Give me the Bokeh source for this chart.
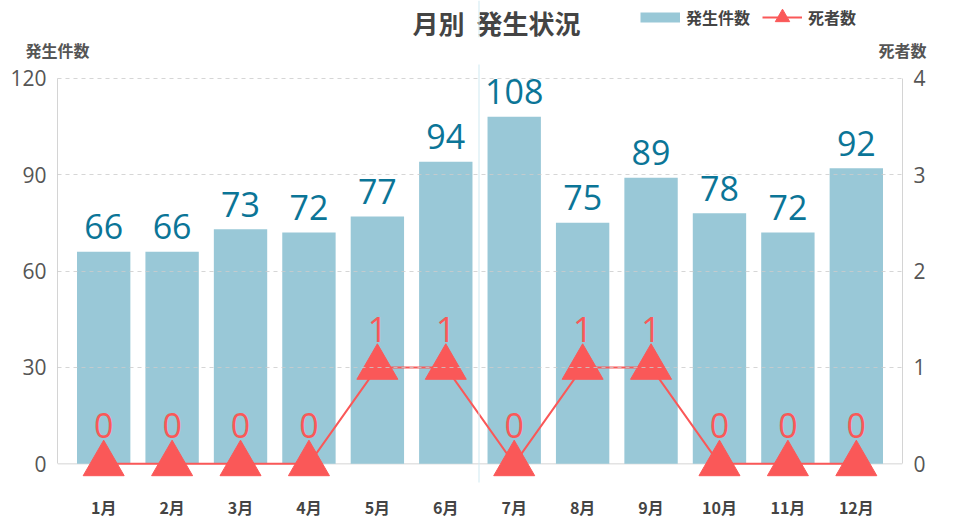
from bokeh.plotting import figure
from bokeh.layouts import column
from bokeh.models import (FactorRange, Range1d, LinearAxis, FixedTicker, Span, Label,
                          Legend, LegendItem, BoxAnnotation, ColumnDataSource)
from bokeh.core.properties import value
from bokeh.embed import file_html
from bokeh.resources import INLINE

# ---- data ----
months = ["1月", "2月", "3月", "4月", "5月", "6月", "7月", "8月", "9月", "10月", "11月", "12月"]
cases = [66, 66, 73, 72, 77, 94, 108, 75, 89, 78, 72, 92]
deaths = [0, 0, 0, 0, 1, 1, 0, 1, 1, 0, 0, 0]
case_ticks = [0, 30, 60, 90, 120]
death_ticks = [0, 1, 2, 3, 4]
title_text = "月別\u00a0 発生状況"
case_label = "発生件数"
death_label = "死者数"

# ---- styles ----
BAR = "#99c8d7"
TEAL = "#0b7597"
RED = "#fa5858"
GRID = "#cccccc"
AXIS = "#d4d4d4"
DARK = "#444444"
GUIDE = "#cfeaf2"
JP = "Noto Sans CJK JP"
NUM = "Open Sans"

W = 956
HEAD_H = 64               # header strip (title, legend, axis titles)
HEAD_FRAME_H = 38         # header frame height (rest is the axis-title band)
MAIN_H = 521 - HEAD_H
FL = 57                   # frame left (px)
FR = 902                  # frame right (px)
TOP_PX = 64 - HEAD_H      # frame top inside main figure
ZERO_Y = 471 - HEAD_H     # y of value 0 inside main figure
FB = 490 - HEAD_H         # frame bottom inside main figure
PX = (471 - 78) / 120.0   # px per case
top_ext = (78 - 64) / PX
bot_ext = (FB - ZERO_Y) / PX

# ================= header =================
h = figure(width=W, height=HEAD_H, x_range=Range1d(FL, FR), y_range=Range1d(HEAD_FRAME_H, 0),
           x_axis_type=None, y_axis_type=None, output_backend="svg", toolbar_location=None,
           min_border_left=FL, min_border_right=W - FR, min_border_top=0,
           min_border_bottom=HEAD_H - HEAD_FRAME_H)
h.outline_line_color = None
h.grid.visible = False

h.add_layout(Label(x=496, y=23, text=title_text, text_align="center", text_baseline="middle",
                   text_font=JP, text_font_style="bold", text_font_size="26px", text_color=DARK))
h.add_layout(BoxAnnotation(left=478, right=479, fill_color=GUIDE, fill_alpha=1, line_color=None))

# axis titles, shown as labels at the two ends of the plot width
title_axis = LinearAxis(ticker=FixedTicker(ticks=[FL, FR]),
                        major_label_overrides={FL: case_label, FR: death_label},
                        axis_line_color=None, major_tick_line_color=None,
                        minor_tick_line_color=None, major_tick_out=0, major_tick_in=0,
                        minor_tick_out=0, major_label_standoff=0,
                        major_label_text_font=JP, major_label_text_font_style="bold",
                        major_label_text_font_size="16px", major_label_text_color="#555555")
h.add_layout(title_axis, "below")

# legend proxies (kept outside the visible header area)
sw = h.line(x=[-100, -90], y=[-100, -100], line_color=BAR, line_width=10)
lg_line = h.line(x=[-100, -90], y=[-100, -100], line_color=RED, line_width=2)
lg_tri = h.scatter(x=[-100], y=[-100], marker="triangle", fill_color=RED, line_color=RED)
legend = Legend(items=[LegendItem(label=case_label, renderers=[sw]),
                       LegendItem(label=death_label, renderers=[lg_line, lg_tri])],
                orientation="horizontal", location=(640 - FL, HEAD_FRAME_H - 36),
                glyph_width=40, glyph_height=36, label_standoff=6, spacing=12,
                padding=0, margin=0, border_line_color=None, background_fill_alpha=0,
                label_text_font=JP, label_text_font_style="bold", label_text_font_size="16px",
                label_text_color=DARK)
h.add_layout(legend, "center")

# ================= main chart =================
src = ColumnDataSource(dict(
    m=months, c=cases, d=deaths,
    ct=[str(v) for v in cases], dt=[str(v) for v in deaths],
))

p = figure(width=W, height=MAIN_H,
           x_range=FactorRange(*months, range_padding=0.175, range_padding_units="absolute"),
           y_range=Range1d(-bot_ext, 120 + top_ext),
           output_backend="svg", toolbar_location=None,
           min_border_left=FL, min_border_right=W - FR, min_border_top=TOP_PX,
           min_border_bottom=MAIN_H - FB)
p.outline_line_color = None
p.extra_y_ranges = {"d": Range1d(-bot_ext / 30.0, (120 + top_ext) / 30.0)}

p.xaxis.axis_line_color = None
p.xaxis.major_tick_line_color = None
p.xaxis.minor_tick_line_color = None
p.xaxis.major_tick_out = 0
p.xaxis.major_label_standoff = 12
p.xaxis.major_label_text_font = JP
p.xaxis.major_label_text_font_style = "bold"
p.xaxis.major_label_text_font_size = "16px"
p.xaxis.major_label_text_color = DARK

p.yaxis.ticker = FixedTicker(ticks=case_ticks)
p.yaxis.bounds = (0, 120)
p.yaxis.axis_line_color = AXIS
p.yaxis.major_tick_line_color = None
p.yaxis.minor_tick_line_color = None
p.yaxis.major_tick_out = 0
p.yaxis.major_label_standoff = 11
p.yaxis.major_label_text_font = NUM
p.yaxis.major_label_text_font_size = "21px"
p.yaxis.major_label_text_color = "#555555"

ry = LinearAxis(y_range_name="d", ticker=FixedTicker(ticks=death_ticks), bounds=(0, 4),
                axis_line_color=AXIS, major_tick_line_color=None, minor_tick_line_color=None,
                major_tick_out=0, major_label_standoff=11, major_label_text_font=NUM,
                major_label_text_font_size="21px", major_label_text_color="#555555")
p.add_layout(ry, "right")

p.xgrid.grid_line_color = None
p.ygrid.ticker = FixedTicker(ticks=[t for t in case_ticks if t > 0])
p.ygrid.grid_line_color = GRID
p.ygrid.grid_line_dash = "4 4"
p.ygrid.grid_line_alpha = 0.8
p.ygrid.level = "overlay"

p.add_layout(Span(location=0, dimension="width", line_color=AXIS, line_width=1, level="underlay"))

p.vbar(x="m", top="c", width=0.78, source=src, fill_color=BAR, line_color=None)
p.text(x="m", y="c", text="ct", source=src, text_align="center", text_baseline="alphabetic",
       y_offset=-25, text_font=value(NUM), text_font_size="34px", text_color=TEAL)

p.line(x="m", y="d", source=src, y_range_name="d", line_color=RED, line_width=2)
p.scatter(x="m", y="d", source=src, y_range_name="d", marker="triangle", size=41,
          fill_color=RED, line_color=RED)
p.text(x="m", y="d", text="dt", source=src, y_range_name="d", text_align="center",
       text_baseline="alphabetic", y_offset=-38, text_font=value(NUM), text_font_size="34px",
       text_color=RED)

p.add_layout(BoxAnnotation(left=478 - FL, right=479 - FL, top=FB - 0, bottom=FB - MAIN_H,
                           left_units="screen", right_units="screen",
                           top_units="screen", bottom_units="screen",
                           fill_color=GUIDE, fill_alpha=1, line_color=None))

layout = column(h, p, spacing=0)
open("out.html", "w").write(file_html(layout, INLINE))
